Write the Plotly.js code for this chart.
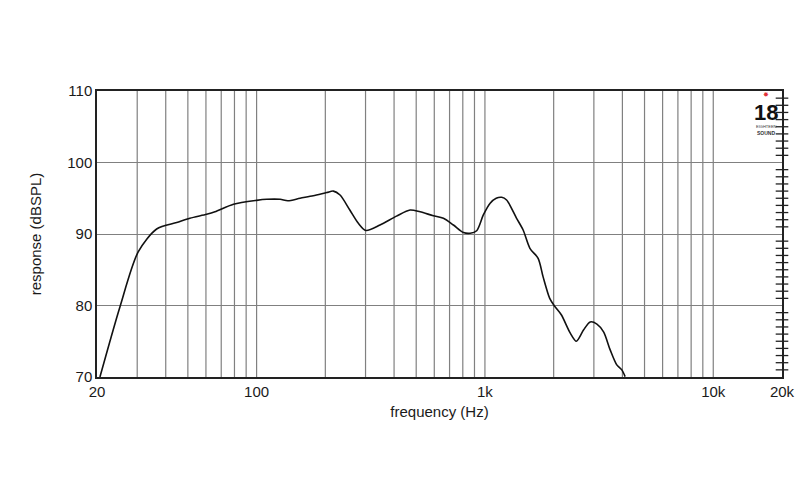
<!DOCTYPE html>
<html>
<head>
<meta charset="utf-8">
<script src="https://cdn.plot.ly/plotly-3.0.1.min.js"></script>
<style>html,body{margin:0;padding:0;background:#fff}#chart{width:800px;height:500px}</style>
</head>
<body>
<div id="chart"></div>
<script>
const freqHz = [20.6, 25.2, 30.3, 36.5, 44.7, 51, 60.4, 65.7, 79.2, 100, 110.8, 126.8, 137, 155, 177, 203, 217, 232, 256, 279, 301, 347, 410, 470, 520, 594, 658, 728, 806, 862, 920, 984, 1054, 1120, 1184, 1244, 1376, 1470, 1574, 1710, 1798, 1922, 2020, 2160, 2368, 2514, 2706, 2892, 3094, 3308, 3536, 3780, 3976, 4112];
const responseDb = [70.0, 79.8, 87.5, 90.7, 91.6, 92.2, 92.75, 93.1, 94.15, 94.7, 94.85, 94.85, 94.65, 95.0, 95.36, 95.8, 96.0, 95.45, 93.36, 91.5, 90.5, 91.26, 92.5, 93.36, 93.1, 92.56, 92.2, 91.26, 90.2, 90.1, 90.46, 92.66, 94.3, 95.0, 95.13, 94.76, 92.2, 90.56, 88.0, 86.6, 84.0, 81.0, 79.9, 78.7, 76.1, 75.0, 76.6, 77.7, 77.4, 76.3, 73.8, 71.7, 71.0, 70.05];
const xTickVals = [20, 100, 1000, 10000, 20000];
const xTickText = ['20', '100', '1k', '10k', '20k'];
const xGridVals = [30,40,50,60,70,80,90,100,200,300,400,500,600,700,800,900,1000,2000,3000,4000,5000,6000,7000,8000,9000,10000];
const yMinorTicks = [71,72,73,74,75,76,77,78,79,81,82,83,84,85,86,87,88,89,91,92,93,94,95,96,97,98,99,101,102,103,104,105,106,107,108,109];
const xRange = [20, 20000];
const yRange = [70, 110];

const shapes = xGridVals.map(v => ({type:'line', xref:'x', yref:'paper', x0:v, x1:v, y0:0, y1:1, line:{color:'#808080', width:1.2}, layer:'below'}));

const tickTrace = xEdge => ({
  x: yMinorTicks.map(() => xEdge), y: yMinorTicks, type:'scatter', mode:'markers',
  marker:{symbol:'line-ew', size:9, color:'#222', line:{color:'#222', width:1.3}},
  cliponaxis:false, hoverinfo:'skip', showlegend:false
});

const data = [
  tickTrace(xRange[0]),
  tickTrace(xRange[1]),
  {x: freqHz, y: responseDb, type:'scatter', mode:'lines',
   line:{color:'#111', width:1.6, shape:'spline', smoothing:0.8},
   hoverinfo:'x+y', showlegend:false}
];

const layout = {
  width:800, height:500,
  margin:{l:97, r:18, t:91, b:123},
  paper_bgcolor:'#fff', plot_bgcolor:'#fff',
  font:{family:'Liberation Sans, Arial, sans-serif', size:15, color:'#1a1a1a'},
  xaxis:{
    type:'log', range:[Math.log10(xRange[0]), Math.log10(xRange[1])],
    tickmode:'array', tickvals:xTickVals, ticktext:xTickText, ticks:'', showgrid:false,
    showline:true, linecolor:'#222', linewidth:1.5, mirror:true,
    tickfont:{size:15}, zeroline:false,
    title:{text:'frequency (Hz)', font:{size:15}, standoff:8}
  },
  yaxis:{
    range:yRange, tickmode:'linear', tick0:70, dtick:10, ticks:'',
    showgrid:true, gridcolor:'#808080', gridwidth:1.2,
    showline:true, linecolor:'#222', linewidth:1.5, mirror:true,
    tickfont:{size:15}, zeroline:false,
    title:{text:'response (dBSPL)', font:{size:15}, standoff:22}
  },
  shapes: shapes,
  annotations:[
    {xref:'paper', yref:'paper', x:0.977, y:0.988, xanchor:'center', yanchor:'middle', text:'✸', showarrow:false, font:{size:7, color:'#e0303a'}},
    {xref:'paper', yref:'paper', x:0.977, y:0.925, xanchor:'center', yanchor:'middle', text:'<b>18</b>', showarrow:false, font:{size:22, color:'#111', family:'Liberation Sans Narrow, Liberation Sans, Arial'}},
    {xref:'paper', yref:'paper', x:0.977, y:0.876, xanchor:'center', yanchor:'middle', text:'EIGHTEEN', showarrow:false, font:{size:4, color:'#333'}},
    {xref:'paper', yref:'paper', x:0.977, y:0.853, xanchor:'center', yanchor:'middle', text:'<b>SOUND</b>', showarrow:false, font:{size:5, color:'#333'}}
  ]
};

Plotly.newPlot('chart', data, layout, {displayModeBar:false});
</script>
</body>
</html>
